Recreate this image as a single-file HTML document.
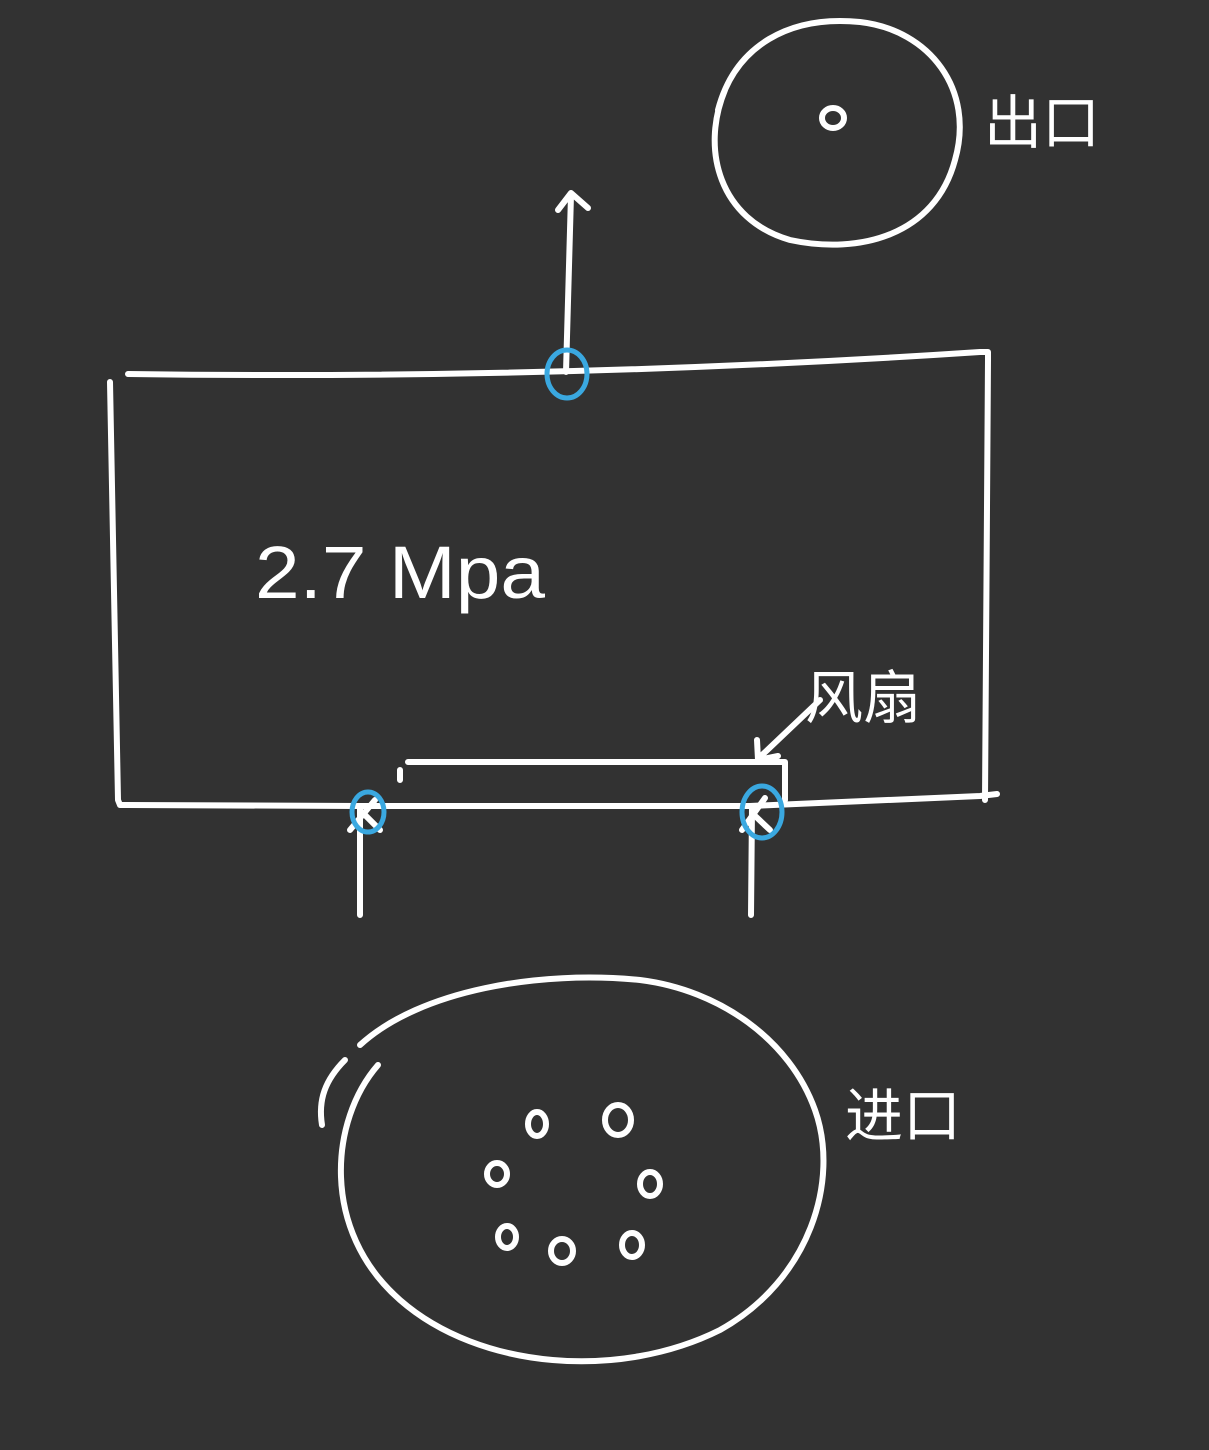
<!DOCTYPE html>
<html><head><meta charset="utf-8"><style>
html,body{margin:0;padding:0;background:#323232;}
svg{display:block}
text{fill:#fff;font-family:"Liberation Sans","WenQuanYi Zen Hei","Noto Sans CJK SC",sans-serif;}
</style></head><body>
<svg width="1209" height="1450" viewBox="0 0 1209 1450" xmlns="http://www.w3.org/2000/svg">
<rect width="1209" height="1450" fill="#323232"/>
<g fill="none" stroke="#fff" stroke-width="6" stroke-linecap="round" stroke-linejoin="round">
<path d="M725 90 C700 150 720 220 790 240 C860 255 935 235 955 160 C975 90 930 30 860 22 C790 15 735 45 718 110"/>
<ellipse cx="833" cy="118" rx="11" ry="10"/>
<path d="M566 372 L571 195 M558 210 L571 193 L588 208"/>
<path d="M128 374 Q560 380 980 352 L988 352 L988 360 L985 800"/>
<path d="M110 382 L118 800 L120 805 L360 806 L750 806 L980 796 L997 794"/>
<path d="M408 762 L785 762 L785 800 M400 770 L400 780"/>
<path d="M820 700 L760 757 M757 740 L758 760 L778 756"/>
<path d="M360 808 L360 915 M752 808 L751 915"/>
<path d="M350 830 L375 800 M365 815 L380 830 M742 830 L765 798 M752 813 L770 830"/>
<path d="M378 1065 C330 1120 320 1230 400 1300 C480 1370 620 1380 720 1330 C810 1280 840 1180 815 1110 C790 1040 720 990 640 980 C540 970 420 990 360 1045"/>
<path d="M345 1060 C325 1080 318 1100 322 1125"/>
<ellipse cx="537" cy="1124" rx="9" ry="12"/>
<ellipse cx="618" cy="1120" rx="13" ry="15"/>
<ellipse cx="497" cy="1174" rx="10" ry="11"/>
<ellipse cx="650" cy="1184" rx="10" ry="12"/>
<ellipse cx="507" cy="1237" rx="9" ry="11"/>
<ellipse cx="562" cy="1251" rx="11" ry="12"/>
<ellipse cx="632" cy="1245" rx="10" ry="12"/>
</g>
<g fill="none" stroke="#3aa8e0" stroke-width="5">
<ellipse cx="567" cy="374" rx="20" ry="24"/>
<ellipse cx="368" cy="812" rx="16" ry="20"/>
<ellipse cx="762" cy="812" rx="20" ry="26"/>
</g>
<text x="255" y="598" font-size="74" textLength="290" lengthAdjust="spacingAndGlyphs">2.7 Mpa</text>
<text x="984" y="143" font-size="58">出口</text>
<text x="805" y="718" font-size="58">风扇</text>
<text x="845" y="1136" font-size="58">进口</text>
</svg>
</body></html>
